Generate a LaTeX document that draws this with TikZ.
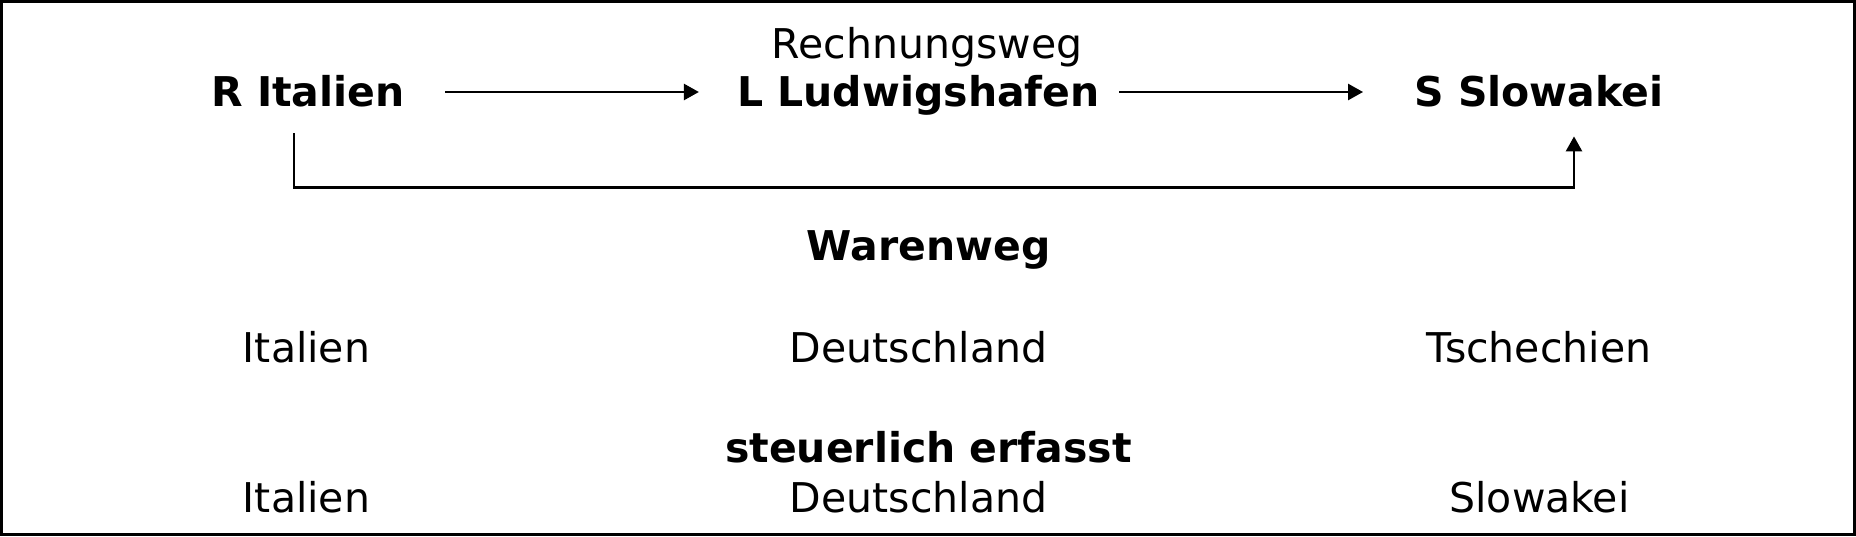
\documentclass[tikz,border=0pt]{standalone}
\usepackage{fontspec}
\setmainfont{DejaVu Sans}
\usetikzlibrary{arrows.meta}
\tikzset{
  ort/.style={font=\fontsize{20.5}{24}\selectfont\bfseries, inner sep=0pt, text height=15pt, text depth=0pt, anchor=base},
  land/.style={font=\fontsize{20.5}{24}\selectfont, inner sep=0pt, anchor=base},
  kopf/.style={font=\fontsize{20.5}{24}\selectfont\bfseries, inner sep=0pt, anchor=base},
  pfeil/.style={-{Triangle[length=7.5pt,width=8pt]}, line width=1.3pt},
}
\begin{document}
\begin{tikzpicture}[x=0.5pt,y=0.5pt]
\draw[line width=1.4pt] (1.4,1.4) rectangle (1854.6,534.6);
% Rechnungsweg
\node[land] (rw) at (927,477) {Rechnungsweg};
\node[ort] (ri) at (308,429) {R Italien};
\node[ort] (ll) at (918.5,429) {L Ludwigshafen};
\node[ort] (ss) at (1539,429) {S Slowakei};
\draw[pfeil, shorten <=20pt, shorten >=19pt] (ri) -- (ll);
\draw[pfeil, shorten <=9.5pt, shorten >=25.5pt] (ll) -- (ss);
% Warenweg
\draw[pfeil] ([xshift=-7pt,yshift=-13pt]ri.south) -- ++(0,-27pt) -| ([xshift=17.5pt,yshift=-14.5pt]ss.south);
\node[kopf] (ww) at (928.5,276) {Warenweg};
\node[land] (wi) at (306.5,174) {Italien};
\node[land] (wd) at (918.5,174) {Deutschland};
\node[land] (wt) at (1539,174) {Tschechien};
% steuerlich erfasst
\node[kopf] (st) at (928.5,74) {steuerlich erfasst};
\node[land] (si) at (306.5,24) {Italien};
\node[land] (sd) at (918.5,24) {Deutschland};
\node[land] (ssk) at (1539.5,24) {Slowakei};
\end{tikzpicture}
\end{document}
